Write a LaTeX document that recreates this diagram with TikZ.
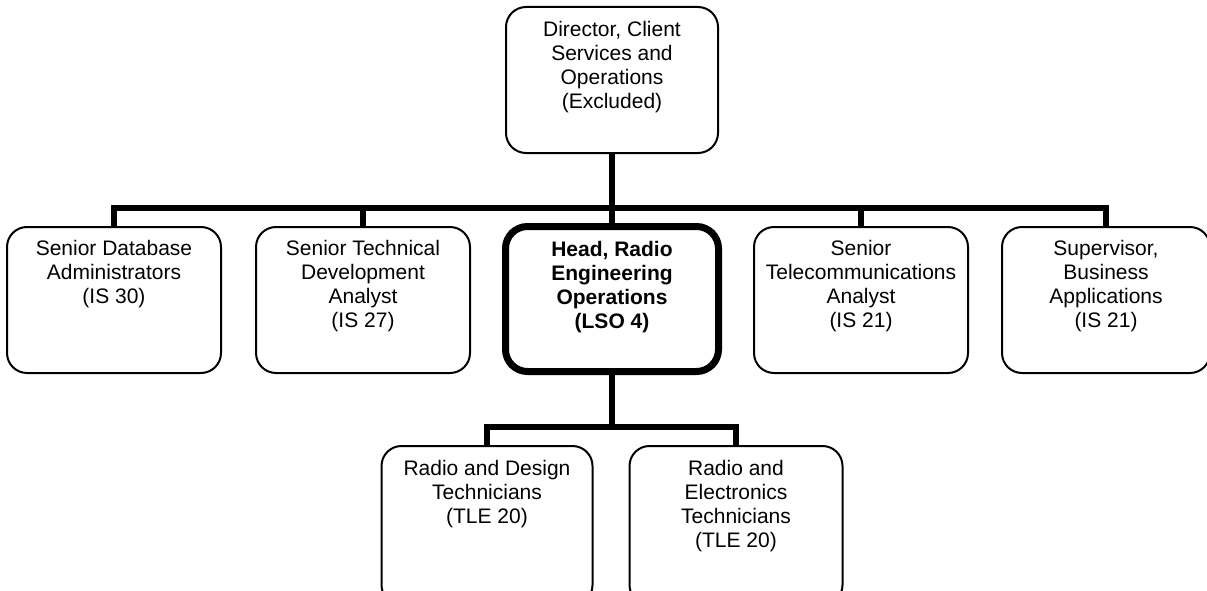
\documentclass[tikz,border=0pt]{standalone}
\usepackage{fontspec}
\setmainfont{Liberation Sans}
\newcommand{\boxtext}[4]{\parbox[c][#2][t]{#1}{\centering\fontsize{21pt}{24pt}\selectfont\rule{0pt}{#3}#4}}
\tikzset{
  orgbox/.style={draw, line width=2pt, rounded corners=20pt, inner sep=0pt, fill=white},
  headbox/.style={draw, line width=7pt, rounded corners=22pt, inner sep=0pt, fill=white},
  conn/.style={line width=5.5pt},
}
\begin{document}
\begin{tikzpicture}[x=1pt,y=-1pt]
\useasboundingbox (0,0) rectangle (1207,591);
\node[orgbox] (top) at (612,80) {\boxtext{212pt}{146pt}{30pt}{Director, Client\\Services and\\Operations\\(Excluded)}};
\node[orgbox] (b1) at (114,300) {\boxtext{214pt}{146pt}{28pt}{Senior Database\\Administrators\\(IS 30)}};
\node[orgbox] (b2) at (363,300) {\boxtext{214pt}{146pt}{28pt}{Senior Technical\\Development\\Analyst\\(IS 27)}};
\node[headbox] (b3) at (612,299) {\boxtext{213pt}{145pt}{30pt}{\bfseries Head, Radio\\Engineering\\Operations\\(LSO 4)}};
\node[orgbox] (b4) at (861,300) {\boxtext{214pt}{146pt}{28pt}{Senior\\Telecommunications\\Analyst\\(IS 21)}};
\node[orgbox] (b5) at (1106,300) {\boxtext{208pt}{146pt}{28pt}{Supervisor,\\Business\\Applications\\(IS 21)}};
\node[orgbox] (b6) at (487,525.5) {\boxtext{211pt}{159pt}{29pt}{Radio and Design\\Technicians\\(TLE 20)}};
\node[orgbox] (b7) at (736,525.5) {\boxtext{213pt}{159pt}{29pt}{Radio and\\Electronics\\Technicians\\(TLE 20)}};
\coordinate (bus) at (612,208);
\coordinate (bus2) at (612,427);
\draw[conn] (top.south) -- (b3.north);
\draw[conn] (b1.north) |- (bus) -| (b5.north);
\draw[conn] (b2.north) -- (b2.north |- bus);
\draw[conn] (b4.north) -- (b4.north |- bus);
\draw[conn] (b3.south) -- (bus2);
\draw[conn] (b6.north) |- (bus2) -| (b7.north);
\end{tikzpicture}
\end{document}
